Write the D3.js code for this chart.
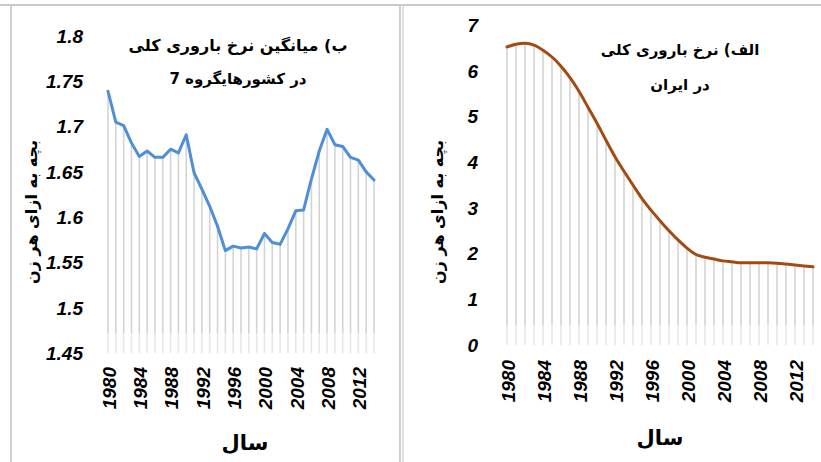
<!DOCTYPE html>
<html lang="fa">
<head>
<meta charset="UTF-8">
<script src="https://d3js.org/d3.v7.min.js"></script>
<style>
  html, body { margin: 0; padding: 0; background: #fff; }
  svg { display: block; }
  .tick-y, .tick-x { font-family: 'Liberation Sans', Arial, sans-serif; font-weight: bold; font-style: italic; fill: #000; }
  .tick-y { font-size: 19px; }
  .tick-x { font-size: 19px; }
  .fa { font-family: 'DejaVu Sans', sans-serif; font-weight: bold; fill: #000; direction: rtl; }
</style>
</head>
<body>
<svg id="chart" width="821" height="462"></svg>
<script>
// ---- data ----
var years = [1980,1981,1982,1983,1984,1985,1986,1987,1988,1989,
             1990,1991,1992,1993,1994,1995,1996,1997,1998,1999,
             2000,2001,2002,2003,2004,2005,2006,2007,2008,2009,
             2010,2011,2012,2013,2014];

// average total fertility rate, G7 countries
var g7Tfr = [1.739,1.705,1.701,1.682,1.667,1.673,1.666,1.666,1.675,1.671,
             1.691,1.649,1.631,1.612,1.590,1.563,1.568,1.566,1.567,1.565,
             1.582,1.572,1.570,1.587,1.607,1.608,1.642,1.673,1.697,1.680,
             1.678,1.666,1.663,1.650,1.641];

// total fertility rate, Iran
var iranTfr = [6.52,6.58,6.60,6.56,6.45,6.30,6.10,5.85,5.55,5.20,
               4.85,4.48,4.12,3.80,3.50,3.20,2.95,2.72,2.50,2.30,
               2.12,1.98,1.92,1.88,1.84,1.82,1.80,1.80,1.80,1.80,
               1.79,1.77,1.75,1.73,1.71];

var xTickYears = [1980,1984,1988,1992,1996,2000,2004,2008,2012];
var g7Ticks = [1.45,1.5,1.55,1.6,1.65,1.7,1.75,1.8];
var iranTicks = [0,1,2,3,4,5,6,7];

var svg = d3.select('#chart');

// panel frames
svg.append('line').attr('x1', 0).attr('x2', 821).attr('y1', 5).attr('y2', 5)
   .style('stroke', '#c9c9c9').style('stroke-width', 2);
svg.append('line').attr('x1', 11).attr('x2', 11).attr('y1', 5).attr('y2', 462)
   .style('stroke', '#cfcfcf').style('stroke-width', 2);
svg.append('line').attr('x1', 400).attr('x2', 400).attr('y1', 5).attr('y2', 462)
   .style('stroke', '#cfcfcf').style('stroke-width', 2);
svg.append('line').attr('x1', 403).attr('x2', 403).attr('y1', 5).attr('y2', 462)
   .style('stroke', '#d6d6d6').style('stroke-width', 1.5);

function drawPanel(opt) {
    var x = d3.scaleLinear().domain([years[0], years[years.length - 1]]).range(opt.xRange);
    var y = d3.scaleLinear().domain(opt.yDomain).range(opt.yRange);
    var g = svg.append('g');

    // drop lines
    g.selectAll('.drop')
        .data(years)
        .enter().append('line')
        .attr('x1', function(d) { return x(d); })
        .attr('x2', function(d) { return x(d); })
        .attr('y1', function(d, i) { return y(opt.values[i]); })
        .attr('y2', y(opt.yDomain[0]))
        .style('stroke', '#d4d4d4')
        .style('stroke-width', 1.6);

    // faded band at the bottom of the plot
    g.append('rect')
        .attr('x', opt.xRange[0] - 4)
        .attr('y', y(opt.yDomain[0]) - 20)
        .attr('width', opt.xRange[1] - opt.xRange[0] + 8)
        .attr('height', 20)
        .style('fill', '#fff')
        .style('opacity', 0.45);

    // series line
    var line = d3.line()
        .x(function(d, i) { return x(years[i]); })
        .y(function(d) { return y(d); })
        .curve(opt.curve);

    g.append('path')
        .datum(opt.values)
        .attr('d', line)
        .style('fill', 'none')
        .style('stroke', opt.color)
        .style('stroke-width', 3)
        .style('stroke-linejoin', 'round')
        .style('stroke-linecap', 'round');

    // y tick labels
    g.selectAll('.tick-y')
        .data(opt.yTicks)
        .enter().append('text')
        .attr('class', 'tick-y')
        .attr('x', opt.yLabelX)
        .attr('y', function(d) { return y(d); })
        .attr('dy', '0.36em')
        .style('text-anchor', 'end')
        .text(function(d) { return d; });

    // x tick labels (rotated)
    g.selectAll('.tick-x')
        .data(xTickYears)
        .enter().append('text')
        .attr('class', 'tick-x')
        .attr('transform', function(d) {
            return 'translate(' + (x(d) + 1) + ',' + opt.xLabelTop + ') rotate(-90)';
        })
        .attr('dy', '0.36em')
        .style('text-anchor', 'end')
        .text(function(d) { return d; });

    // titles
    opt.title.forEach(function(t, i) {
        g.append('text')
            .attr('class', 'fa')
            .attr('x', opt.titleX)
            .attr('y', opt.titleY[i])
            .style('font-size', opt.titleSize[i])
            .style('text-anchor', 'middle')
            .text(t);
    });

    // axis titles
    g.append('text')
        .attr('class', 'fa')
        .attr('transform', 'translate(' + opt.yTitleX + ',212) rotate(-90)')
        .attr('dy', '0.35em')
        .style('font-size', '16px')
        .style('text-anchor', 'middle')
        .text('بچه به ازای هر زن');

    g.append('text')
        .attr('class', 'fa')
        .attr('x', opt.xTitleX)
        .attr('y', opt.xTitleY)
        .style('font-size', '21px')
        .style('text-anchor', 'middle')
        .text('سال');
}

drawPanel({
    values: g7Tfr,
    xRange: [108, 374],
    yDomain: [1.45, 1.8],
    yRange: [353, 36],
    yTicks: g7Ticks,
    yLabelX: 83,
    xLabelTop: 367,
    color: '#4f8fd6',
    curve: d3.curveLinear,
    title: ['ب) میانگین نرخ باروری کلی', 'در کشورهایگروه 7'],
    titleSize: ['16px', '15px'],
    titleX: 238,
    titleY: [51, 84],
    yTitleX: 31,
    xTitleX: 245,
    xTitleY: 450
});

drawPanel({
    values: iranTfr,
    xRange: [507, 813],
    yDomain: [0, 7],
    yRange: [345, 25],
    yTicks: iranTicks,
    yLabelX: 478,
    xLabelTop: 360,
    color: '#a24b12',
    curve: d3.curveMonotoneX,
    title: ['الف) نرخ باروری کلی', 'در ایران'],
    titleSize: ['15px', '15px'],
    titleX: 680,
    titleY: [55, 90],
    yTitleX: 437,
    xTitleX: 660,
    xTitleY: 445
});
</script>
</body>
</html>
